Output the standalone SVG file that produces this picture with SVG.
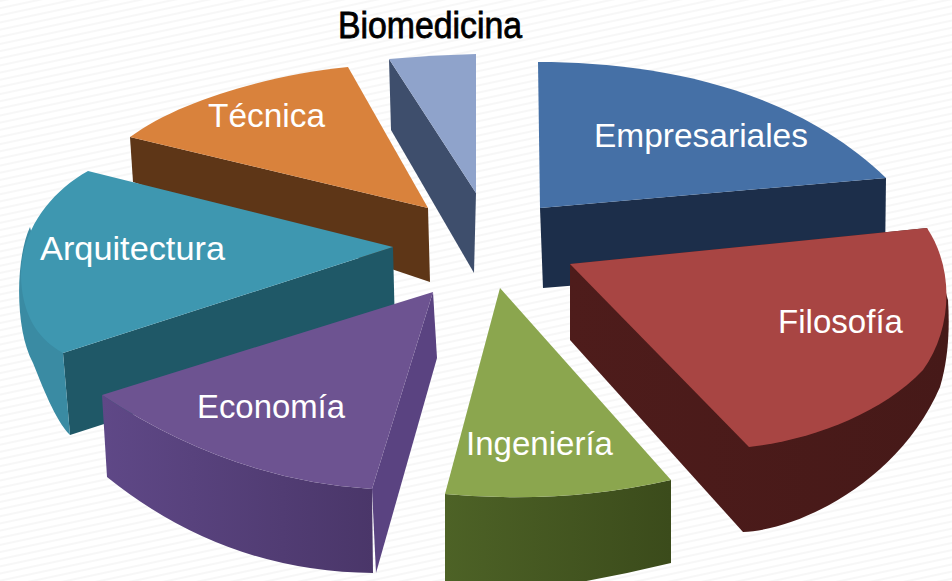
<svg xmlns="http://www.w3.org/2000/svg" width="952" height="581" viewBox="0 0 952 581">
  <defs>
    <pattern id="stripes" width="12" height="7" patternUnits="userSpaceOnUse" patternTransform="rotate(-12)">
      <rect width="12" height="7" fill="#ffffff"/>
      <rect y="0" width="12" height="2" fill="#f7f7f7"/>
    </pattern>
    <linearGradient id="ecoFront" x1="0" y1="0" x2="1" y2="0">
      <stop offset="0" stop-color="#5f4887"/>
      <stop offset="1" stop-color="#4a3669"/>
    </linearGradient>
    <linearGradient id="ingSide" x1="0" y1="0" x2="1" y2="0">
      <stop offset="0" stop-color="#4d6226"/>
      <stop offset="1" stop-color="#3b4b1b"/>
    </linearGradient>
    <linearGradient id="filSide" x1="0" y1="0" x2="1" y2="0">
      <stop offset="0" stop-color="#4e1c1b"/>
      <stop offset="1" stop-color="#461918"/>
    </linearGradient>
  </defs>
  <style>
    .lbl { font-family: "Liberation Sans", Arial, sans-serif; font-size: 34px; fill: #ffffff; }
    .title { font-family: "Liberation Sans", Arial, sans-serif; font-size: 36px; fill: #000000; stroke: #000000; stroke-width: 0.8px; }
  </style>

  <rect width="952" height="581" fill="url(#stripes)"/>

  <g id="biomedicina">
    <path d="M389,59 L476,193 L474,273 L391,130 Z" fill="#3e4e6c"/>
    <path d="M389,59 Q432,55 476,54 L476,193 Z" fill="#8fa3cb"/>
    <text class="title" x="338" y="38" textLength="184" lengthAdjust="spacingAndGlyphs">Biomedicina</text>
  </g>

  <g id="empresariales">
    <path d="M540,208 L886,178 L885,260 L543,288 Z" fill="#1c2e4a"/>
    <path d="M538,62 C650,62 790,85 886,178 L540,208 Z" fill="#4570a6"/>
    <text class="lbl" x="594" y="147" textLength="214" lengthAdjust="spacingAndGlyphs">Empresariales</text>
  </g>

  <g id="tecnica">
    <path d="M130,137 L428,208 L430,282 L133,182 Z" fill="#5e3617"/>
    <path d="M130,137 C180,100 270,75 348,67 L428,208 Z" fill="#d9823c"/>
    <text class="lbl" x="208" y="127" textLength="117" lengthAdjust="spacingAndGlyphs">Técnica</text>
  </g>

  <g id="arquitectura">
    <path d="M63,353 L393,247 L395,330 L70,435 Z" fill="#1f5867"/>
    <path d="M30,227 C15,260 15,330 33,363 C42,385 55,420 70,435 L63,353 Z" fill="#3a8ba3"/>
    <path d="M88,171 C45,195 15,240 22,290 C26,320 40,340 63,353 L393,247 Z" fill="#3e97b0"/>
    <text class="lbl" x="40" y="260" textLength="185" lengthAdjust="spacingAndGlyphs">Arquitectura</text>
  </g>

  <g id="filosofia">
    <path d="M570,264 L570,340 L743,532 C800,530 900,480 940,387 C948,360 950,330 948,300 L927,228 Z" fill="url(#filSide)"/>
    <path d="M570,264 L927,228 C955,270 952,330 923,370 C880,415 810,440 749,447 Z" fill="#a84543"/>
    <text class="lbl" x="778" y="333" textLength="125" lengthAdjust="spacingAndGlyphs">Filosofía</text>
  </g>

  <g id="economia">
    <path d="M433,292 L437,358 L376,573 L372,489 Z" fill="#5a4381"/>
    <path d="M102,395 Q230,480 372,489 L373,573 Q225,572 107,477 Z" fill="url(#ecoFront)"/>
    <path d="M102,395 L433,292 L372,489 Q230,480 102,395 Z" fill="#6d5391"/>
    <text class="lbl" x="197" y="418" textLength="148" lengthAdjust="spacingAndGlyphs">Economía</text>
  </g>

  <g id="ingenieria">
    <path d="M445,494 Q560,505 671,480 L671,563 Q560,590 445,600 Z" fill="url(#ingSide)"/>
    <path d="M500,288 L671,480 Q560,505 445,494 Z" fill="#8ba64e"/>
    <text class="lbl" x="466" y="455" textLength="147" lengthAdjust="spacingAndGlyphs">Ingeniería</text>
  </g>
</svg>
